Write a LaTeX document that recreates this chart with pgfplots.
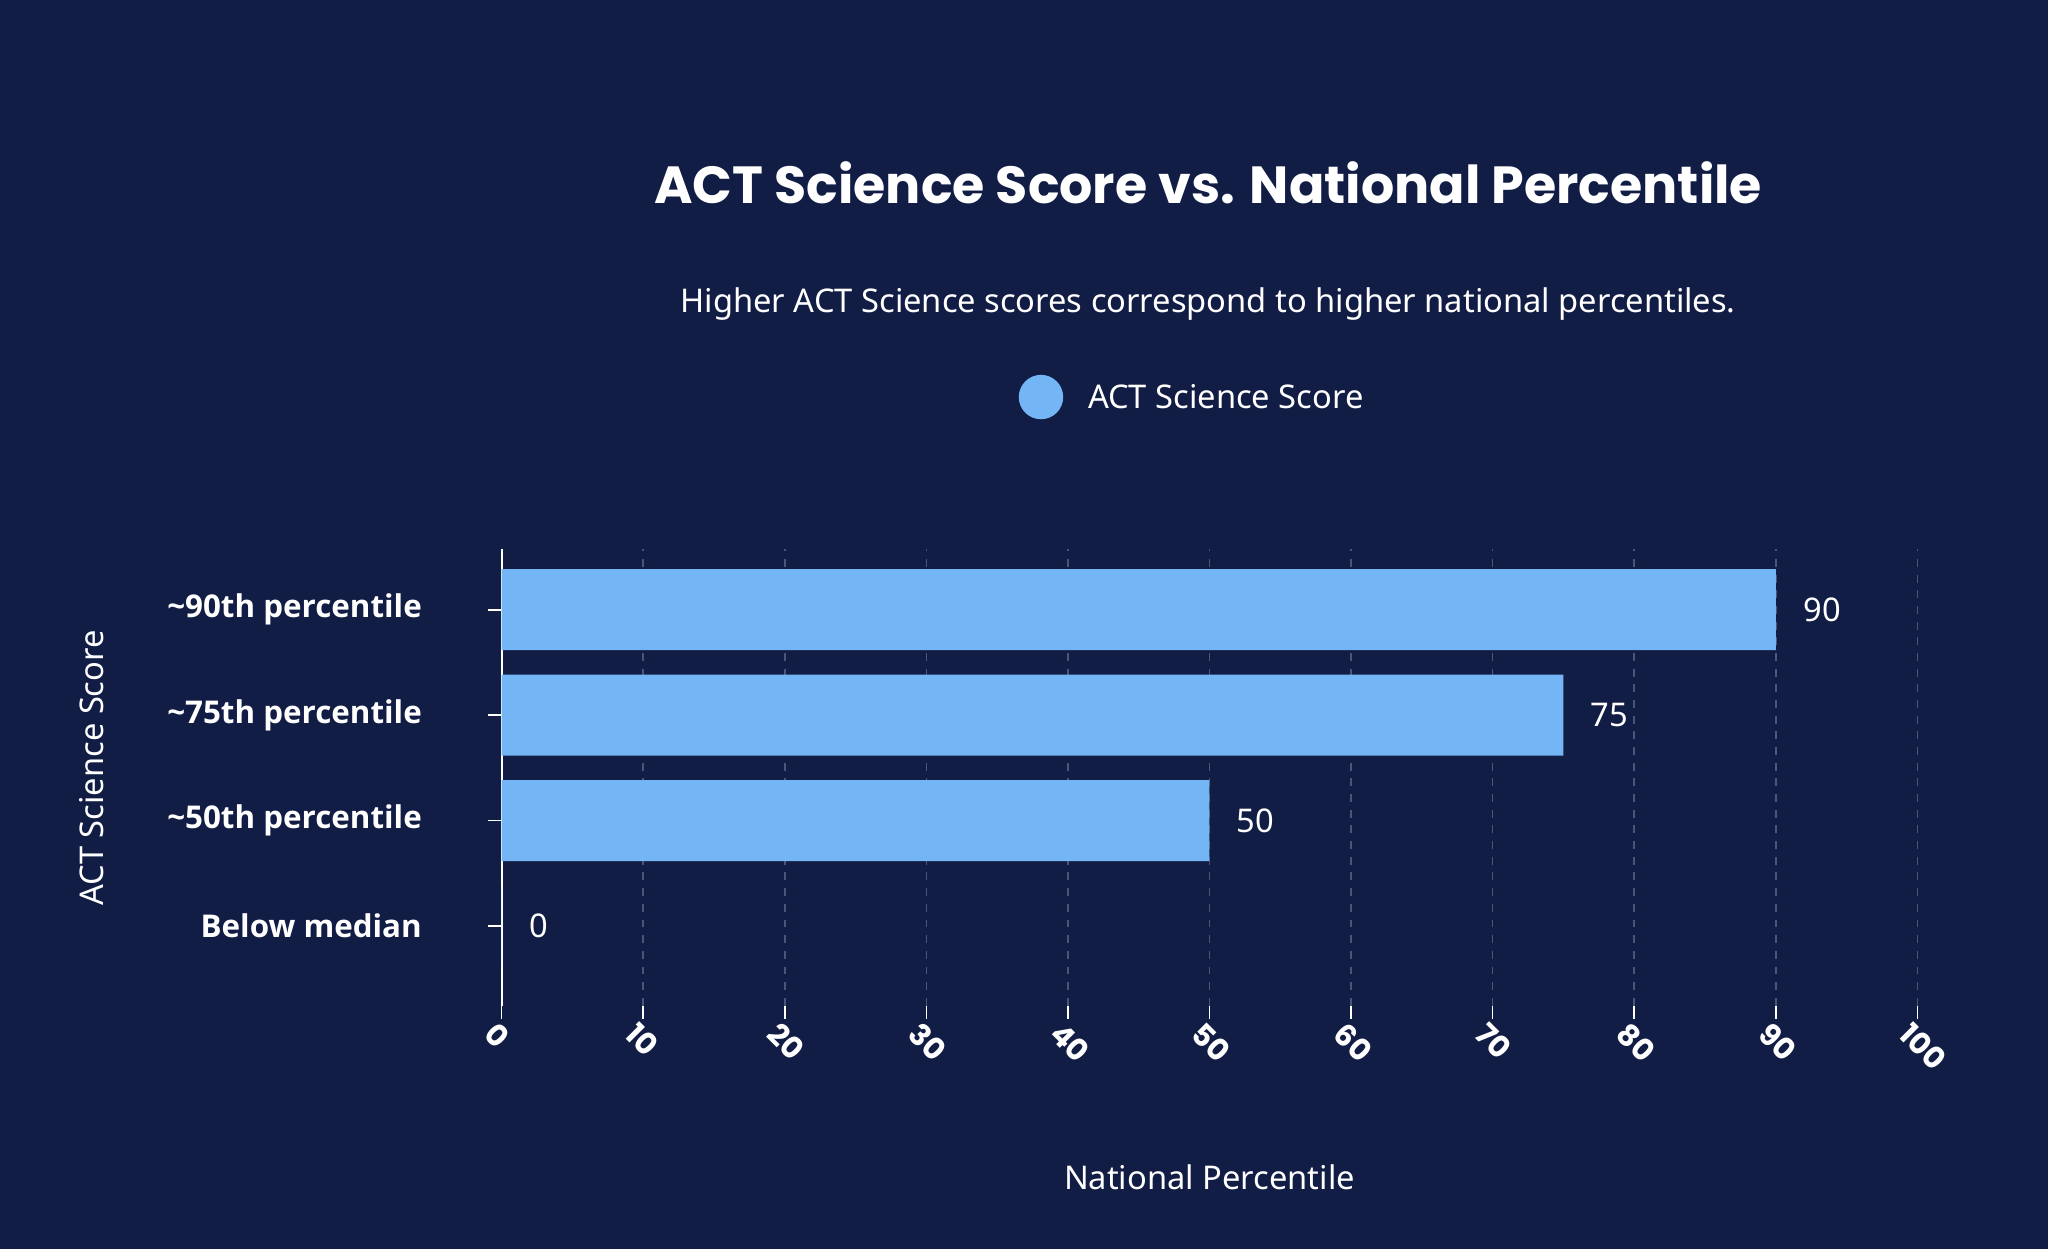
\documentclass[border=0pt]{standalone}
\usepackage{pgfplots}
\pgfplotsset{compat=1.18}
\usepackage{fontspec}
\setmainfont{Noto Sans}
\newfontfamily\titlefont{Poppins}
\newfontfamily\tickfont{Open Sans}
\definecolor{bg}{HTML}{121D45}
\definecolor{bar}{HTML}{74B5F5}
\definecolor{gridc}{HTML}{4A5578}
\begin{document}
\begin{tikzpicture}[x=1pt,y=1pt]
\fill[bg] (0,0) rectangle (784,-478);
\node[text=white,font=\titlefont\bfseries\fontsize{20}{24}\selectfont] at (462.5,-70) {ACT Science Score vs. National Percentile};
\node[text=white,font=\fontsize{12.5}{15}\selectfont] at (462.5,-116.5) {Higher ACT Science scores correspond to higher national percentiles.};
\fill[bar] (398.5,-152) circle (8.5);
\node[anchor=west,text=white,font=\fontsize{12.5}{15}\selectfont] at (413,-152) {ACT Science Score};
\node[text=white,font=\fontsize{12.5}{15}\selectfont] at (463,-450.5) {National Percentile};
\node[rotate=90,text=white,font=\fontsize{12.5}{15}\selectfont] at (35,-294) {ACT Science Score};
\begin{axis}[at={(192pt,-385pt)},anchor=south west,scale only axis,
  width=542pt,height=175pt,
  xbar,bar width=31pt,
  xmin=0,xmax=100,ymin=-0.756,ymax=3.58,
  xtick={0,10,...,100},ytick={0,1,2,3},
  yticklabels={Below median,{\char126}50th percentile,{\char126}75th percentile,{\char126}90th percentile},
  /pgf/number format/assume math mode=true,
  yticklabel style={text=white,font=\tickfont\bfseries\fontsize{12}{14}\selectfont,xshift=-22pt},
  xticklabel style={text=white,font=\titlefont\bfseries\fontsize{11.5}{14}\selectfont,rotate=-45,anchor=north west,xshift=-4pt,yshift=2pt},
  axis x line*=bottom,axis y line*=left,
  x axis line style={draw=none},
  y axis line style={white,line width=0.8pt},
  tick style={white,line width=0.6pt},
  tick align=outside,major tick length=5pt,
  xmajorgrids,grid style={gridc,dashed,line width=0.6pt},
  nodes near coords,
  nodes near coords style={text=white,font=\fontsize{12.5}{15}\selectfont,xshift=7pt},
]
\addplot[fill=bar,draw=none] coordinates {(0,0) (50,1) (75,2) (90,3)};
\end{axis}
\end{tikzpicture}
\end{document}
